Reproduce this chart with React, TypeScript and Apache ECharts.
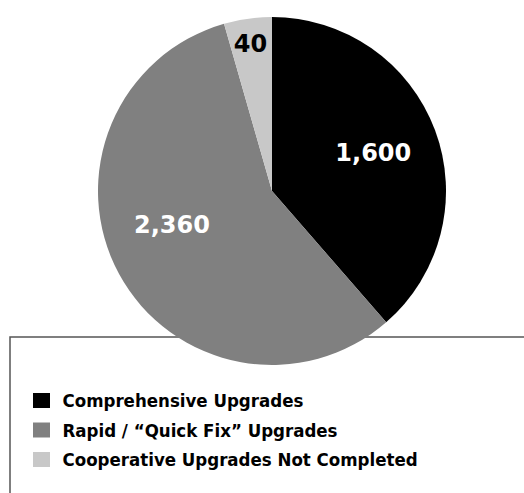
import React, { useEffect, useRef } from "react";
import * as echarts from "echarts";

const categories = [
  "Comprehensive Upgrades",
  "Rapid / \u201cQuick Fix\u201d Upgrades",
  "Cooperative Upgrades Not Completed",
];
const values = [1600, 2360, 40];
const colors = ["#000000", "#808080", "#c8c8c8"];
const labelColors = ["#ffffff", "#ffffff", "#000000"];
const labelOffsets = [
  [17, -6],
  [-21, -9],
  [-9, -58],
];

export default function App() {
  const ref = useRef<HTMLDivElement>(null);
  useEffect(() => {
    if (!ref.current) return;
    const chart = echarts.init(ref.current, undefined, { renderer: "svg" });
    const fmt = (v: number) => v.toLocaleString("en-US");
    chart.setOption({
      animation: false,
      backgroundColor: "#ffffff",
      graphic: [
        {
          type: "polyline",
          z: -10,
          shape: {
            points: [
              [10, 493],
              [10, 337],
              [524, 337],
            ],
          },
          style: { stroke: "#555555", lineWidth: 1.5, fill: "none" },
        },
      ],
      legend: {
        orient: "vertical",
        left: 33,
        top: 391,
        padding: 0,
        itemWidth: 17,
        itemHeight: 15,
        itemGap: 10.5,
        icon: "rect",
        selectedMode: false,
        data: categories,
        textStyle: {
          fontFamily: "DejaVu Sans Condensed",
          fontWeight: "bold",
          fontSize: 18.5,
          color: "#000000",
          padding: [0, 0, 0, 7.5],
        },
      },
      series: [
        {
          type: "pie",
          center: [272, 191],
          radius: 174,
          startAngle: 90,
          clockwise: true,
          minAngle: 16,
          avoidLabelOverlap: false,
          labelLine: { show: false },
          emphasis: { disabled: true },
          data: categories.map((name, i) => ({
            name,
            value: values[i],
            itemStyle: { color: colors[i] },
            label: {
              show: true,
              position: "inside",
              formatter: fmt(values[i]),
              color: labelColors[i],
              fontFamily: "DejaVu Sans",
              fontWeight: "bold",
              fontSize: 24,
              offset: labelOffsets[i],
            },
          })),
        },
      ],
    });
    return () => chart.dispose();
  }, []);
  return (
    <div
      ref={ref}
      style={{ position: "fixed", left: 0, top: 0, width: 524, height: 493 }}
    />
  );
}
